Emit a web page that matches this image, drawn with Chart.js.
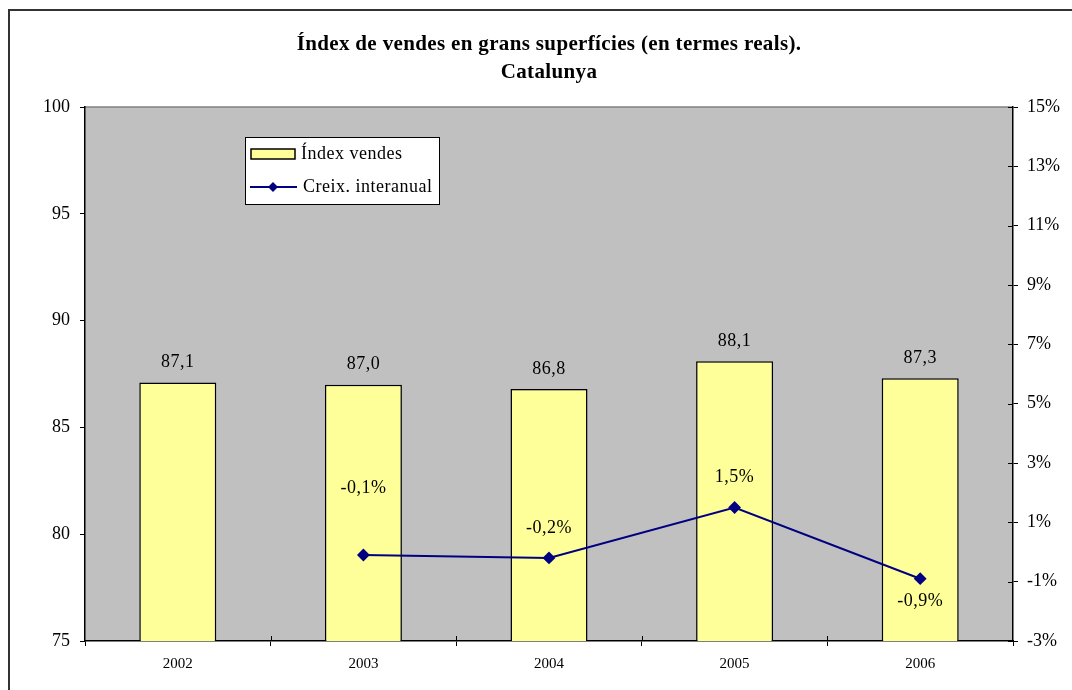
<!DOCTYPE html>
<html>
<head>
<meta charset="utf-8">
<script src="https://cdn.jsdelivr.net/npm/chart.js@4/dist/chart.umd.min.js"></script>
<style>
  html, body { margin: 0; padding: 0; background: #fff; overflow: hidden; }
  #frame { position: absolute; left: 8px; top: 9px; width: 1080px; height: 700px; border: 2px solid #333; box-sizing: border-box; }
  #wrap { position: absolute; left: 0; top: 0; width: 1072px; height: 690px; }
</style>
</head>
<body>
<div id="frame"></div>
<div id="wrap"><canvas id="vendesChart" width="1072" height="690"></canvas></div>
<script>
// data
var years = ["2002", "2003", "2004", "2005", "2006"];
var indexVendes = [87.1, 87.0, 86.8, 88.1, 87.3];
var creixInteranual = [null, -0.1, -0.2, 1.5, -0.9];
var titleLines = ["Índex de vendes en grans superfícies (en termes reals).", "Catalunya"];

// vertical nudge of the % labels, Excel moved some of them by hand
var lineLabelShift = [0, -67, -30, -30, 23];

function fmt(v) {
  return v.toFixed(1).replace('.', ',');
}

var serif = '"Liberation Serif", "Times New Roman", serif';

// gray plot background + title + legend + value labels
var excelLook = {
  id: 'excelLook',
  beforeDraw: function(chart) {
    var ctx = chart.ctx, a = chart.chartArea;
    ctx.save();
    ctx.fillStyle = '#C0C0C0';
    ctx.fillRect(a.left, a.top, a.right - a.left, a.bottom - a.top);
    ctx.strokeStyle = '#808080';
    ctx.lineWidth = 1.5;
    ctx.beginPath();
    ctx.moveTo(a.left, a.top);
    ctx.lineTo(a.right, a.top);
    ctx.stroke();

    // title
    ctx.fillStyle = '#000';
    ctx.textAlign = 'center';
    ctx.textBaseline = 'middle';
    ctx.font = 'bold 21px ' + serif;
    ctx.letterSpacing = '0.35px';
    var cx = (a.left + a.right) / 2;
    ctx.fillText(titleLines[0], cx, 45);
    ctx.fillText(titleLines[1], cx, 73);
    ctx.restore();
  },
  afterDatasetsDraw: function(chart) {
    var ctx = chart.ctx, a = chart.chartArea;
    ctx.save();
    ctx.letterSpacing = '0.5px';
    ctx.font = '18px ' + serif;
    ctx.fillStyle = '#000';
    ctx.textAlign = 'center';
    ctx.textBaseline = 'middle';

    var bars = chart.getDatasetMeta(0).data;
    bars.forEach(function(el, i) {
      ctx.fillText(fmt(indexVendes[i]), el.x, el.y - 20);
    });
    var pts = chart.getDatasetMeta(1).data;
    pts.forEach(function(el, i) {
      if (creixInteranual[i] === null) return;
      ctx.fillText(fmt(creixInteranual[i]) + '%', el.x, el.y + lineLabelShift[i]);
    });

    // legend box
    var lx = a.left + 160, ly = a.top + 30;
    ctx.fillStyle = '#fff';
    ctx.fillRect(lx, ly, 194, 67);
    ctx.strokeStyle = '#000';
    ctx.lineWidth = 1;
    ctx.strokeRect(lx + 0.5, ly + 0.5, 194, 67);

    ctx.fillStyle = '#FFFF99';
    ctx.fillRect(lx + 6, ly + 12, 44, 10);
    ctx.lineWidth = 1.5;
    ctx.strokeRect(lx + 6, ly + 12, 44, 10);

    ctx.strokeStyle = '#000080';
    ctx.lineWidth = 2;
    ctx.beginPath();
    ctx.moveTo(lx + 5, ly + 50);
    ctx.lineTo(lx + 52, ly + 50);
    ctx.stroke();
    ctx.fillStyle = '#000080';
    ctx.beginPath();
    ctx.moveTo(lx + 28, ly + 45);
    ctx.lineTo(lx + 33, ly + 50);
    ctx.lineTo(lx + 28, ly + 55);
    ctx.lineTo(lx + 23, ly + 50);
    ctx.closePath();
    ctx.fill();

    ctx.fillStyle = '#000';
    ctx.textAlign = 'left';
    ctx.fillText('Índex vendes', lx + 56, ly + 17);
    ctx.fillText('Creix. interanual', lx + 58, ly + 50);
    ctx.restore();
  },
  afterDraw: function(chart) {
    // inner half of the cross ticks on the right and bottom axes
    var ctx = chart.ctx, a = chart.chartArea;
    var y1 = chart.scales.y1, x = chart.scales.x;
    ctx.save();
    ctx.strokeStyle = '#000';
    ctx.lineWidth = 1;
    y1.ticks.forEach(function(t) {
      var py = Math.round(y1.getPixelForValue(t.value)) + 0.5;
      ctx.beginPath();
      ctx.moveTo(a.right - 5, py);
      ctx.lineTo(a.right, py);
      ctx.stroke();
    });
    for (var i = 0; i < years.length - 1; i++) {
      var px = Math.round((x.getPixelForValue(i) + x.getPixelForValue(i + 1)) / 2) + 0.5;
      ctx.beginPath();
      ctx.moveTo(px, a.bottom - 5);
      ctx.lineTo(px, a.bottom);
      ctx.stroke();
    }
    ctx.restore();
  }
};

var ctx = document.getElementById('vendesChart').getContext('2d');
var vendesChart = new Chart(ctx, {
  data: {
    labels: years,
    datasets: [
      {
        type: 'bar',
        label: 'Índex vendes',
        data: indexVendes,
        backgroundColor: '#FFFF99',
        borderColor: '#000',
        borderWidth: 1.5,
        barPercentage: 0.415,
        categoryPercentage: 1,
        yAxisID: 'y',
        order: 2
      },
      {
        type: 'line',
        label: 'Creix. interanual',
        data: creixInteranual,
        borderColor: '#000080',
        backgroundColor: '#000080',
        borderWidth: 2,
        pointStyle: 'rectRot',
        pointRadius: 5,
        pointHoverRadius: 5,
        tension: 0,
        yAxisID: 'y1',
        order: 1
      }
    ]
  },
  options: {
    responsive: false,
    animation: false,
    events: [],
    layout: { padding: { top: 107, right: 0, bottom: 0, left: 0 } },
    plugins: {
      legend: { display: false },
      title: { display: false },
      tooltip: { enabled: false }
    },
    scales: {
      x: {
        offset: true,
        grid: { offset: true, drawOnChartArea: false, tickLength: 5, color: '#000', lineWidth: 1 },
        border: { color: '#000', width: 1.5 },
        ticks: { color: '#000', font: { family: serif, size: 15 }, padding: 9 },
        afterFit: function(s) { s.height = 49; }
      },
      y: {
        position: 'left',
        min: 75,
        max: 100,
        ticks: { stepSize: 5, color: '#000', font: { family: serif, size: 18 }, padding: 10 },
        grid: { drawOnChartArea: false, tickLength: 5, color: '#000' },
        border: { color: '#000', width: 1.5 },
        afterFit: function(s) { s.width = 85; }
      },
      y1: {
        position: 'right',
        min: -3,
        max: 15,
        ticks: {
          stepSize: 2,
          color: '#000',
          font: { family: serif, size: 18 },
          padding: 9,
          callback: function(v) { return v + '%'; }
        },
        grid: { drawOnChartArea: false, tickLength: 5, color: '#000' },
        border: { color: '#000', width: 1.5 },
        afterFit: function(s) { s.width = 59; }
      }
    }
  },
  plugins: [excelLook]
});
</script>
</body>
</html>
